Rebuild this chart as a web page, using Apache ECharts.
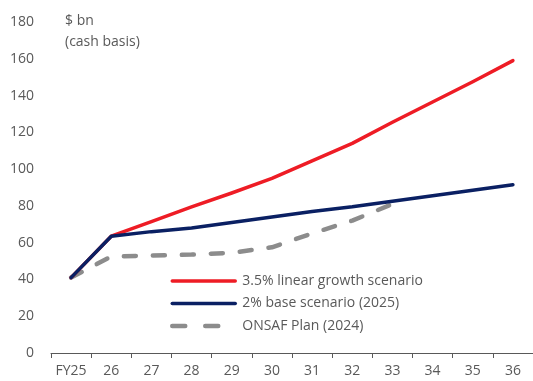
<!DOCTYPE html>
<html>
<head>
<meta charset="utf-8">
<script src="https://cdn.jsdelivr.net/npm/echarts@6/dist/echarts.min.js"></script>
<style>
  html, body { margin: 0; padding: 0; background: #fff; }
  #chart { width: 533px; height: 381px; }
</style>
</head>
<body>
<div id="chart"></div>
<script>
// Fiscal years on the horizontal axis
const years = ['FY25', '26', '27', '28', '29', '30', '31', '32', '33', '34', '35', '36'];

// Spending paths, $ bn on a cash basis
const linearGrowth = [41, 63.5, 71.5, 79.5, 87, 95, 104.5, 114, 125.5, 136.5, 147.5, 159];
const baseScenario = [41, 63.5, 66, 68, 71, 74, 77, 79.5, 82.5, 85.5, 88.5, 91.5];
const onsafPlan = [41, 52.5, 53, 53.5, 54.5, 57.5, 65, 72, 81];

const seriesNames = ['3.5% linear growth scenario', '2% base scenario (2025)', 'ONSAF Plan (2024)'];

const textColor = '#595959';
const fontFamily = '"Open Sans", sans-serif';

const chart = echarts.init(document.getElementById('chart'), null, { renderer: 'canvas' });

chart.setOption({
  animation: false,
  textStyle: { fontFamily: fontFamily, color: textColor },
  grid: { left: 51, right: 0, top: 22, bottom: 28, containLabel: false },
  legend: {
    orient: 'vertical',
    left: 170,
    top: 274,
    padding: 0,
    itemWidth: 63,
    itemHeight: 14,
    itemGap: 8.5,
    itemStyle: { opacity: 0 },
    lineStyle: { width: 3.5 },
    textStyle: { fontFamily: fontFamily, fontSize: 14, color: textColor, padding: [0, 0, 0, 2] },
    data: [
      { name: seriesNames[0] },
      { name: seriesNames[1] },
      { name: seriesNames[2], lineStyle: { width: 4.5, type: [13, 20] } }
    ]
  },
  graphic: [{
    type: 'text',
    left: 65,
    top: 11,
    style: {
      text: '$ bn\n(cash basis)',
      fontFamily: fontFamily,
      fontSize: 14,
      lineHeight: 21,
      fill: textColor
    }
  }],
  xAxis: {
    type: 'category',
    data: years,
    boundaryGap: true,
    axisLine: { lineStyle: { color: textColor, width: 1 } },
    axisTick: { show: true, length: 5, interval: 0, lineStyle: { color: textColor } },
    axisLabel: { interval: 0, fontFamily: fontFamily, fontSize: 14, color: textColor, margin: 11 }
  },
  yAxis: {
    type: 'value',
    min: 0,
    max: 180,
    interval: 20,
    axisLine: { show: false },
    axisTick: { show: false },
    splitLine: { show: false },
    axisLabel: { fontFamily: fontFamily, fontSize: 14, color: textColor, margin: 17 }
  },
  series: [
    {
      name: seriesNames[0],
      type: 'line',
      data: linearGrowth,
      symbol: 'none',
      lineStyle: { color: '#EE1C25', width: 3.5, cap: 'round', join: 'round' },
      itemStyle: { color: '#EE1C25' },
      z: 3
    },
    {
      name: seriesNames[1],
      type: 'line',
      data: baseScenario,
      symbol: 'none',
      lineStyle: { color: '#0A2063', width: 3.5, cap: 'round', join: 'round' },
      itemStyle: { color: '#0A2063' },
      z: 4
    },
    {
      name: seriesNames[2],
      type: 'line',
      data: onsafPlan,
      symbol: 'none',
      lineStyle: { color: '#8C8C8C', width: 4.5, type: [12, 17], cap: 'round', join: 'round' },
      itemStyle: { color: '#8C8C8C' },
      z: 2
    }
  ]
});
</script>
</body>
</html>
